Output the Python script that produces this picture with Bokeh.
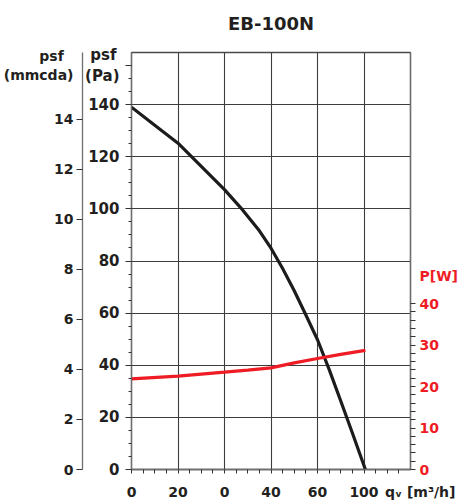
from bokeh.plotting import figure
from bokeh.models import Range1d, LinearAxis, FixedTicker, Title
from bokeh.embed import file_html
from bokeh.resources import INLINE

# ---- data ----
q_pa = [0, 10, 20, 30, 40, 47, 55, 60, 65, 70, 75, 80, 85, 90, 95, 100.6]
pa = [139, 132.1, 125.2, 116.3, 107.4, 100.4, 91.6, 84.9, 77.1, 68.6, 59.3, 49.8, 38.4, 26.3, 14, 0]

q_w = [0, 20, 40, 50, 60, 70, 80, 90, 100.6]
w = [21.85, 22.5, 23.45, 23.95, 24.5, 25.7, 26.75, 27.75, 28.7]

NB = "\u00a0"
x_ticks = [0, 20, 40, 60, 80, 100, 120]
x_tick_labels = ["0", "20", "0", "40", "60", "100", NB * 4 + "qᵥ [m³/h]"]
pa_ticks = [0, 20, 40, 60, 80, 100, 120, 140, 155]
pa_tick_labels = ["0", "20", "40", "60", "80", "100", "120", "140", "psf\u2009\n(Pa)"]
mm_ticks = [0, 2, 4, 6, 8, 10, 12, 14, 16.16]
mm_tick_labels = ["0", "2", "4", "6", "8", "10", "12", "14", "psf" + NB * 2 + "\n(mmcda)"]
w_ticks = [0, 10, 20, 30, 40, 46.7]
w_tick_labels = ["0", "10", "20", "30", "40", "P[W]"]

PA_PER_MM = 9.6
X_MAX, PA_MAX, W_MAX = 120, 160, 100.5

FONT = "DejaVu Sans"
INK = "#231f20"
RED = "#ee1c25"
AXC = "#6e6e6e"

p = figure(frame_width=279, frame_height=417,
           x_range=Range1d(0, X_MAX), y_range=Range1d(0, PA_MAX),
           min_border_left=131, min_border_right=49, min_border_top=52, min_border_bottom=32,
           output_backend="svg", toolbar_location=None)
p.extra_y_ranges = {"mm": Range1d(0, PA_MAX / PA_PER_MM), "W": Range1d(0, W_MAX)}
p.background_fill_color = "white"
p.border_fill_color = "white"
p.outline_line_color = "#4a4a4a"
p.outline_line_width = 1.3
p.title.visible = False

# title (a small spacer title keeps it at the right height above the frame)
p.add_layout(Title(text=" ", text_font_size="10px", standoff=4), "above")
p.add_layout(Title(text="EB-100N", align="center", text_font=FONT, text_font_size="18px",
                   text_font_style="bold", text_color=INK, standoff=4), "above")

def style_axis(ax, color=INK, size="15px"):
    ax.axis_line_color = AXC
    ax.axis_line_width = 1.3
    ax.major_tick_line_color = "#333333"
    ax.minor_tick_line_color = "#333333"
    ax.major_tick_in = 0
    ax.minor_tick_in = 0
    ax.major_label_text_font = FONT
    ax.major_label_text_font_size = size
    ax.major_label_text_font_style = "bold"
    ax.major_label_text_color = color

# x axis (visible tick marks are the minor ticks)
xa = p.xaxis[0]
style_axis(xa, size="14px")
xa.ticker = FixedTicker(ticks=x_ticks, minor_ticks=list(range(0, X_MAX, 5)))
xa.major_label_overrides = dict(zip(x_ticks, x_tick_labels))
xa.major_tick_line_color = None
xa.major_tick_out = 4
xa.minor_tick_out = 4
xa.major_label_standoff = 10

# Pa axis
ya = p.yaxis[0]
style_axis(ya)
ya.ticker = FixedTicker(ticks=pa_ticks, minor_ticks=list(range(5, PA_MAX, 5)))
ya.major_label_overrides = dict(zip(pa_ticks, pa_tick_labels))
ya.major_tick_out = 6
ya.minor_tick_out = 3
ya.major_label_standoff = 6

# mmcda axis
mm = LinearAxis(y_range_name="mm",
                ticker=FixedTicker(ticks=mm_ticks, minor_ticks=mm_ticks[:-1]))
style_axis(mm, size="14px")
mm.major_label_overrides = dict(zip(mm_ticks, mm_tick_labels))
mm.major_tick_line_color = None
mm.major_tick_out = 6
mm.minor_tick_out = 6
mm.major_label_standoff = 3
p.add_layout(mm, "left")

# W axis
wa = LinearAxis(y_range_name="W",
                ticker=FixedTicker(ticks=w_ticks, minor_ticks=list(range(0, 41, 2))))
style_axis(wa, RED, size="14px")
wa.major_label_overrides = dict(zip(w_ticks, w_tick_labels))
wa.major_tick_line_color = None
wa.major_tick_out = 5
wa.minor_tick_out = 5
wa.major_label_standoff = 4
p.add_layout(wa, "right")

# grid
p.xgrid.ticker = FixedTicker(ticks=list(range(0, X_MAX + 1, 20)))
p.ygrid.ticker = FixedTicker(ticks=list(range(0, PA_MAX + 1, 20)))
for g in (p.xgrid[0], p.ygrid[0]):
    g.grid_line_color = "#3c3c3c"
    g.grid_line_width = 1.1

# curves
p.line(q_pa, pa, line_color="#1c1c1c", line_width=3.2)
p.line(q_w, w, y_range_name="W", line_color=RED, line_width=3.2)

open("out.html", "w").write(file_html(p, INLINE))
